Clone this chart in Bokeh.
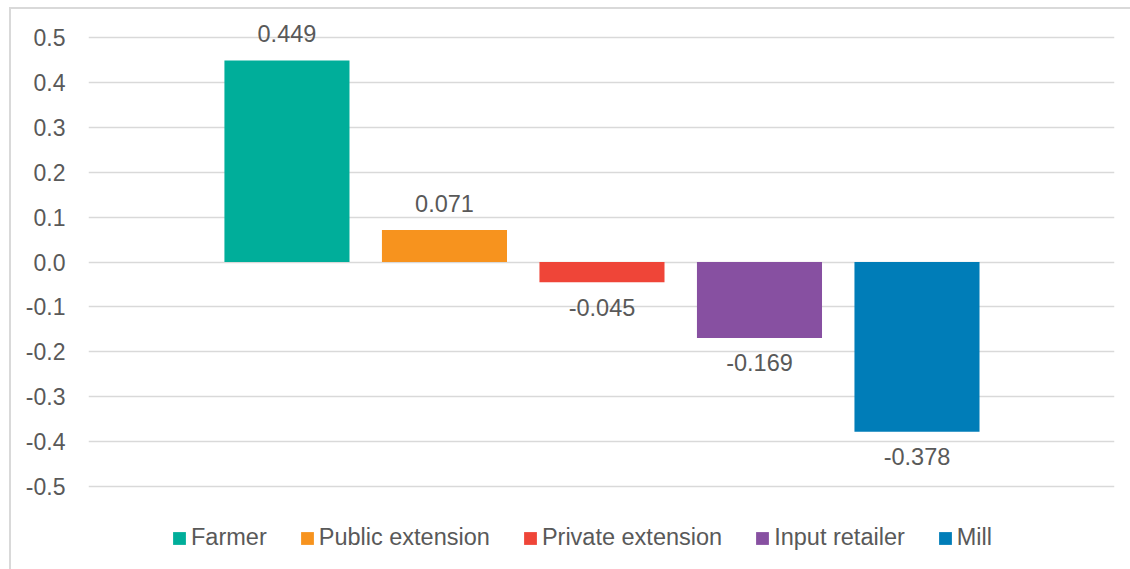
from bokeh.plotting import figure
from bokeh.models import (ColumnDataSource, Range1d, FixedTicker, NumeralTickFormatter,
                          Legend, LegendItem, InlineStyleSheet)
from bokeh.core.properties import value
from bokeh.embed import file_html
from bokeh.resources import INLINE

# ---- data ----
categories = ["Farmer", "Public extension", "Private extension", "Input retailer", "Mill"]
values = [0.449, 0.071, -0.045, -0.169, -0.378]
colors = ["#00AE9A", "#F7931E", "#EF4538", "#8750A1", "#007DB8"]
y_ticks = [-0.5, -0.4, -0.3, -0.2, -0.1, 0.0, 0.1, 0.2, 0.3, 0.4, 0.5]

FONT = "Liberation Sans"
TXT = "#595959"
GRID = "#D9D9D9"

W, H = 1130, 569
TOP_PX, BOT_PX = 37, 486          # pixel rows of +0.5 and -0.5
ppu = (BOT_PX - TOP_PX) / 1.0     # pixels per unit
y_hi = 0.5 + TOP_PX / ppu
y_lo = -0.5 - (H - BOT_PX) / ppu

xs = list(range(len(categories)))
labels = [f"{v:.3f}" for v in values]
offsets = [-27 if v >= 0 else 25 for v in values]
src = ColumnDataSource(dict(x=xs, v=values, c=colors, cat=categories, lab=labels, off=offsets))

p = figure(width=W, height=H, output_backend="svg", toolbar_location=None,
           x_range=Range1d(-1.26, 5.254), y_range=Range1d(y_lo, y_hi),
           x_axis_location=None,
           min_border_left=88, min_border_right=16, min_border_top=0, min_border_bottom=0)
p.outline_line_color = None
p.background_fill_color = "white"
p.border_fill_color = "white"

p.xgrid.visible = False
p.ygrid.ticker = FixedTicker(ticks=y_ticks)
p.ygrid.grid_line_color = GRID
p.ygrid.grid_line_width = 1.5

ax = p.yaxis[0]
ax.ticker = FixedTicker(ticks=y_ticks)
ax.formatter = NumeralTickFormatter(format="0.0")
ax.axis_line_color = None
ax.major_tick_line_color = None
ax.minor_tick_line_color = None
ax.major_label_standoff = 17
ax.major_label_text_font = FONT
ax.major_label_text_font_size = "23px"
ax.major_label_text_color = TXT

bars = p.vbar(x="x", top="v", bottom=0, width=0.794, source=src,
              fill_color="c", line_color=None)

p.text(x="x", y="v", text="lab", source=src, y_offset="off",
       text_align="center", text_baseline="alphabetic",
       text_font=value(FONT), text_font_size="23.5px", text_color=TXT)

items = [LegendItem(label=cat, renderers=[bars], index=i) for i, cat in enumerate(categories)]
legend = Legend(items=items, orientation="horizontal", location=(83, 18),
                glyph_width=16, glyph_height=16, label_standoff=4, spacing=32,
                padding=0, margin=0, border_line_color=None, background_fill_alpha=0,
                label_text_font=FONT, label_text_font_size="23.5px", label_text_color=TXT)
p.add_layout(legend, "center")

p.stylesheets = [InlineStyleSheet(css="""
:host::after {
  content: "";
  position: absolute;
  left: 9px; top: 7px; right: 0px; bottom: 0px;
  border-left: 2px solid #D9D9D9;
  border-top: 2px solid #D9D9D9;
  pointer-events: none;
}
""")]

open("out.html", "w").write(file_html(p, INLINE))
